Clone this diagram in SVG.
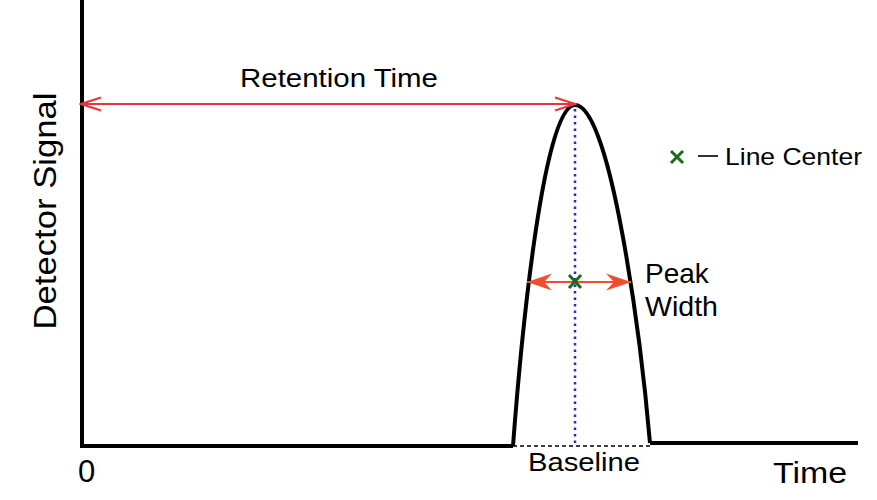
<svg xmlns="http://www.w3.org/2000/svg" width="877" height="500" viewBox="0 0 877 500">
  <style>
    .t { font-family: "Liberation Sans", Arial, sans-serif; fill: #000; }
    .ax { fill: none; stroke: #000; stroke-width: 4; stroke-linejoin: miter; }
    .rt { stroke: #e8343c; stroke-width: 2; fill: none; }
    .pw { stroke: #f04e2a; stroke-width: 2.2; fill: none; }
    .gx { stroke: #1a6b1a; stroke-width: 3; stroke-linecap: butt; fill: none; }
  </style>
  <defs>
    <marker id="openArrow" viewBox="-22 -8 24 16" refX="0" refY="0" markerWidth="24" markerHeight="16" markerUnits="userSpaceOnUse" orient="auto-start-reverse">
      <path d="M-20,-6.5 L0,0 L-20,6.5" fill="none" stroke="#e8343c" stroke-width="2"/>
    </marker>
    <marker id="solidArrow" viewBox="-26 -10 28 20" refX="0" refY="0" markerWidth="28" markerHeight="20" markerUnits="userSpaceOnUse" orient="auto-start-reverse">
      <path d="M0,0 L-25,-8.5 L-17,0 L-25,8.5 Z" fill="#f04e2a" stroke="none"/>
    </marker>
  </defs>

  <g id="axes">
    <path class="ax" d="M82,0 L82,446 L513,446"/>
    <path class="ax" d="M650,443 L858,443"/>
    <text class="t" x="78" y="482" font-size="31">0</text>
    <text class="t" x="773" y="483" font-size="29" textLength="74" lengthAdjust="spacingAndGlyphs">Time</text>
    <text class="t" font-size="31" text-anchor="middle" transform="translate(56,211) rotate(-90)" textLength="237" lengthAdjust="spacingAndGlyphs">Detector Signal</text>
  </g>

  <g id="peak">
    <path class="ax" d="M513,446 C521,340 543,105 575,105 C611,105 641,340 650,443"/>
    <line x1="513" y1="446" x2="650" y2="446" stroke="#000" stroke-width="1.3" stroke-dasharray="4 3"/>
    <text class="t" x="528" y="471" font-size="26" textLength="112" lengthAdjust="spacingAndGlyphs">Baseline</text>
  </g>

  <g id="connectors">
    <line x1="575" y1="109" x2="575" y2="444" stroke="#2a2ac8" stroke-width="2.5" stroke-dasharray="2.5 4"/>
    <line class="rt" x1="81" y1="104" x2="575" y2="104" marker-start="url(#openArrow)" marker-end="url(#openArrow)"/>
    <line class="pw" x1="527" y1="282" x2="631" y2="282" marker-start="url(#solidArrow)" marker-end="url(#solidArrow)"/>
  </g>

  <g id="retention-time">
    <text class="t" x="240" y="87" font-size="26" textLength="198" lengthAdjust="spacingAndGlyphs">Retention Time</text>
  </g>

  <g id="line-center-mark">
    <path class="gx" d="M569,275 L581,288 M581,275 L569,288"/>
  </g>

  <g id="peak-width">
    <text class="t" x="645" y="283" font-size="28">Peak</text>
    <text class="t" x="645" y="316" font-size="28" textLength="73" lengthAdjust="spacingAndGlyphs">Width</text>
  </g>

  <g id="legend">
    <path class="gx" d="M671,151 L683,163 M683,151 L671,163"/>
    <line x1="698" y1="156" x2="718" y2="156" stroke="#000" stroke-width="1.6"/>
    <text class="t" x="725" y="165" font-size="24" textLength="137" lengthAdjust="spacingAndGlyphs">Line Center</text>
  </g>
</svg>
